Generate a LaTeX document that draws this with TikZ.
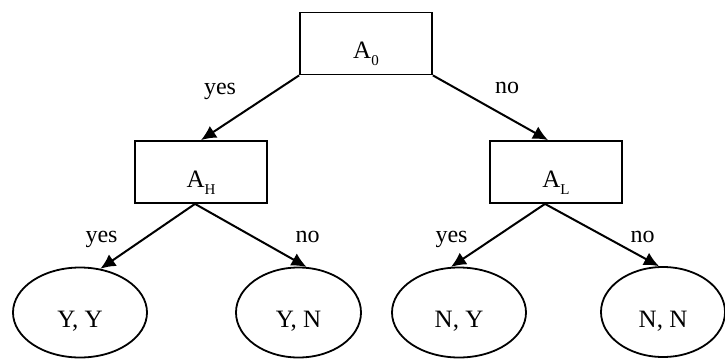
\documentclass[tikz,border=0pt]{standalone}
\usepackage{fontspec}
\setmainfont{Liberation Serif}
\usetikzlibrary{arrows.meta,shapes.geometric}
\newcommand{\subidx}[1]{\raisebox{-7pt}{\fontsize{15}{15}\selectfont #1}}

\begin{document}
\begin{tikzpicture}[
	x=1pt, y=-1pt,
  > = {Latex[length=15pt,width=14pt]},
  every node/.style = {font=\fontsize{24}{28}\selectfont},
  test/.style = {draw,rectangle,line width=1.8pt,minimum width=132pt,minimum height=62pt,inner sep=0pt,text height=30pt,text depth=0pt,font=\fontsize{25}{28}\selectfont},
  leaf/.style = {draw,ellipse,line width=1.8pt,minimum width=134pt,minimum height=90pt,inner sep=0pt,text height=30pt,text depth=0pt,font=\fontsize{25}{28}\selectfont},
  branch/.style = {->,line width=2pt}
  ]
	\useasboundingbox (0,0) rectangle (725,359);

	\node[test] (A0) at (366,43.5) {A\subidx{0}};
	\node[test] (AH) at (201,172) {A\subidx{H}};
	\node[test] (AL) at (556,172) {A\subidx{L}};

	\node[leaf] (YY) at (80,312.5) {Y, Y};
	\node[leaf,minimum width=125pt] (YN) at (298.5,312.5) {Y, N};
	\node[leaf] (NY) at (459,312.5) {N, Y};
	\node[leaf,minimum width=124pt] (NN) at (663,312) {N, N};

	\draw[branch] (A0.south west) -- (AH.north);
	\draw[branch] (A0.south east) -- ([xshift=-8pt]AL.north);
	\draw[branch] ([xshift=-6pt]AH.south) -- (YY.65);
	\draw[branch] ([xshift=-6pt]AH.south) -- (YN.80);
	\draw[branch] ([xshift=-11pt]AL.south) -- (NY.100);
	\draw[branch] ([xshift=-11pt]AL.south) -- (NN.95);

	\node[anchor=base] (yes0) at (220,94) {yes};
	\node[anchor=base] (no0) at (507,93) {no};
	\node[anchor=base] (yesH) at (101.5,242) {yes};
	\node[anchor=base] (noH) at (307.5,242) {no};
	\node[anchor=base] (yesL) at (451.5,242) {yes};
	\node[anchor=base] (noL) at (642.5,242) {no};

\end{tikzpicture}
\end{document}
